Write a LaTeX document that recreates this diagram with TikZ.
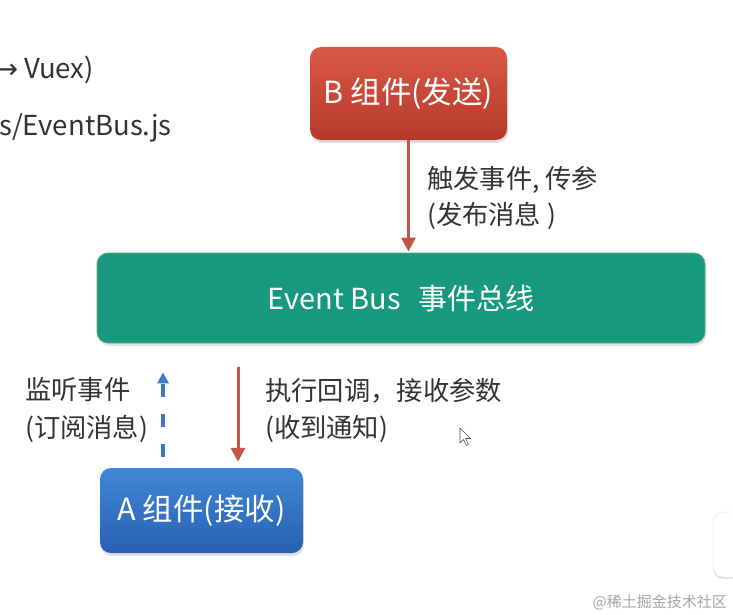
\documentclass[tikz,border=0pt]{standalone}
\usepackage{fontspec}
\setmainfont{Noto Sans CJK SC}
\newfontfamily\dejavu{DejaVu Sans}
\usetikzlibrary{arrows.meta,shadows}
\definecolor{redtop}{HTML}{DB5846}
\definecolor{redbot}{HTML}{B5392B}
\definecolor{teal}{HTML}{17987F}
\definecolor{tealedge}{HTML}{4DB36F}
\definecolor{bluetop}{HTML}{4187D6}
\definecolor{bluebot}{HTML}{2860B3}
\definecolor{redline}{HTML}{C4534A}
\definecolor{blueline}{HTML}{3C79C4}
\definecolor{txt}{HTML}{333333}
\tikzset{
  compbox/.style={rounded corners=11pt, text=white, font=\fontsize{30.5}{34}\selectfont,
    drop shadow={opacity=0.25, shadow xshift=1pt, shadow yshift=-3pt}, inner sep=0pt},
  redbox/.style={compbox, top color=redtop, bottom color=redbot},
  bluebox/.style={compbox, top color=bluetop, bottom color=bluebot},
  busbox/.style={rounded corners=11pt, fill=teal, draw=tealedge, line width=0.8pt, text=white,
    font=\fontsize{29}{32}\selectfont, drop shadow={opacity=0.2, shadow xshift=1pt, shadow yshift=-3pt}},
  redarrow/.style={draw=redline, line width=3pt, -{Triangle[length=14pt,width=14pt]}},
  bluearrow/.style={draw=blueline, line width=3.5pt, dash pattern=on 13pt off 17pt,
    -{Triangle[length=11pt,width=11pt]}},
  lbl/.style={text=txt, font=\fontsize{26.3}{30}\selectfont, anchor=west, inner sep=0pt},
  toptxt/.style={text=txt, font=\fontsize{27.5}{30}\selectfont, anchor=west, inner sep=0pt},
}
\begin{document}
\begin{tikzpicture}[x=1pt,y=-1pt]
\useasboundingbox (0,0) rectangle (733,615);
\clip (0,0) rectangle (733,615);
\fill[white] (0,0) rectangle (733,615);

% top-left partial text
\node[toptxt] (t1) at (-5,70) {{\dejavu →} Vuex)};
\node[toptxt] (t2) at (-1,128) {s/EventBus.js};

% boxes
\node[redbox, minimum width=197pt, minimum height=93pt] (B) at (408.5,93.5) {B 组件(发送)};
\node[busbox, minimum width=608pt, minimum height=90pt] (Bus) at (401,298) {Event Bus\hspace{0.6em}事件总线};
\node[bluebox, minimum width=203pt, minimum height=85pt] (A) at (201.5,510.5) {A 组件(接收)};

% arrow B -> Bus
\draw[redarrow, shorten >=1pt] (B.south) -- (B.south |- Bus.north);
\node[lbl] (l1) at (427,180) {触发事件, 传参};
\node[lbl] (l2) at (427,216) {(发布消息 )};

% arrows between Bus and A
\coordinate (rx) at (238,0);
\coordinate (bx) at (163,0);
\draw[redarrow, shorten <=24pt, shorten >=6pt] (rx |- Bus.south) -- (rx |- A.north);
\draw[bluearrow, shorten <=11pt, shorten >=29pt] (bx |- A.north) -- (bx |- Bus.south);

\node[lbl] (l3) at (25,390) {监听事件};
\node[lbl] (l4) at (25,429) {(订阅消息)};
\node[lbl] (l5) at (265,391) {执行回调，接收参数};
\node[lbl] (l6) at (265,429) {(收到通知)};

% mouse cursor
\draw[fill=white, draw=black!70, line width=0.6pt, line join=round]
  (460,428) -- (460,443) -- (463.5,439.5) -- (466.5,445.5) -- (468.5,444.5) -- (465.5,438.5) -- (470.5,438.5) -- cycle;

% partial right shape
\draw[rounded corners=10pt, fill=white, draw=black!12, drop shadow={opacity=0.2, shadow xshift=0pt, shadow yshift=-2pt}] (713,512) rectangle (760,577);

% watermark
\node[text=black!35, font=\fontsize{15}{18}\selectfont, anchor=east, inner sep=0pt] (wm) at (727,602) {@稀土掘金技术社区};
\end{tikzpicture}
\end{document}
